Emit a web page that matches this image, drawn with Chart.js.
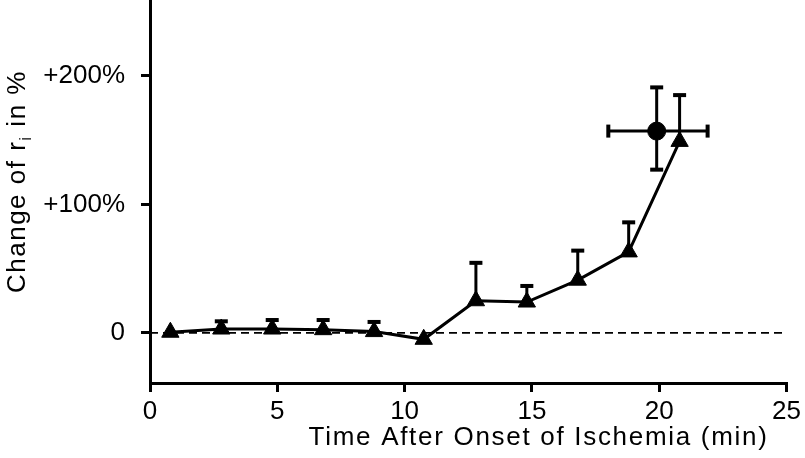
<!DOCTYPE html>
<html lang="en">
<head>
  <meta charset="UTF-8">
  <title>Change of ri after onset of ischemia</title>
  <style>
    html, body {
      margin: 0;
      padding: 0;
      background: #ffffff;
    }
    canvas {
      display: block;
    }
  </style>
</head>
<body>

<canvas id="chart" width="805" height="458"></canvas>

<script src="https://cdn.jsdelivr.net/npm/chart.js"></script>
<script>
  // measured series (triangles), time in min, change in %
  const times = [0.8, 2.8, 4.8, 6.8, 8.8, 10.75, 12.8, 14.8, 16.8, 18.8, 20.8];
  const change = [0.5, 3, 3, 2.5, 1, -5, 25, 24, 41, 63, 149];
  const errTop = [null, 9, 10, 10, 8.5, null, 54.5, 36.5, 64, 86, 185];

  // single reference point (circle) with x and y error
  const refTime = [19.9];
  const refChange = [157];
  const refYLow = [127];
  const refYHigh = [191];
  const refXLow = [18.0];
  const refXHigh = [21.9];

  const xTicks = [0, 5, 10, 15, 20, 25];
  const yTicks = [0, 100, 200];
  const zeroLine = [0, 25];

  const FONT = '"Liberation Sans", Arial, Helvetica, sans-serif';

  const errorBars = {
    id: 'errorBars',
    beforeDatasetsDraw(chart) {
      const { ctx, scales: { x, y } } = chart;
      ctx.save();
      ctx.strokeStyle = '#000';
      ctx.fillStyle = '#000';
      ctx.lineWidth = 3;

      times.forEach((t, i) => {
        if (errTop[i] == null) return;
        const px = x.getPixelForValue(t);
        const y0 = y.getPixelForValue(change[i]);
        const y1 = y.getPixelForValue(errTop[i]);
        ctx.beginPath();
        ctx.moveTo(px, y0);
        ctx.lineTo(px, y1);
        ctx.stroke();
        ctx.fillRect(px - 6.5, y1 - 2, 13, 4);
      });

      refTime.forEach((t, i) => {
        const px = x.getPixelForValue(t);
        const py = y.getPixelForValue(refChange[i]);
        const yl = y.getPixelForValue(refYLow[i]);
        const yh = y.getPixelForValue(refYHigh[i]);
        const xl = x.getPixelForValue(refXLow[i]);
        const xh = x.getPixelForValue(refXHigh[i]);
        ctx.beginPath();
        ctx.moveTo(px, yl);
        ctx.lineTo(px, yh);
        ctx.moveTo(xl, py);
        ctx.lineTo(xh, py);
        ctx.stroke();
        ctx.fillRect(px - 6.5, yh - 2, 13, 4);
        ctx.fillRect(px - 6.5, yl - 2, 13, 4);
        ctx.fillRect(xl - 2, py - 6.5, 4, 13);
        ctx.fillRect(xh - 2, py - 6.5, 4, 13);
      });
      ctx.restore();
    }
  };

  // axis titles drawn by hand (subscript i on the y title)
  const axisTitles = {
    id: 'axisTitles',
    afterDraw(chart) {
      const { ctx, chartArea } = chart;
      ctx.save();
      ctx.fillStyle = '#000';
      ctx.letterSpacing = '1.7px';
      ctx.font = '26px ' + FONT;
      ctx.textBaseline = 'alphabetic';

      ctx.textAlign = 'right';
      ctx.fillText('Time After Onset of Ischemia (min)', chartArea.right - 18, chartArea.bottom + 62);

      ctx.letterSpacing = '1.5px';
      ctx.translate(25, 293);
      ctx.rotate(-Math.PI / 2);
      ctx.textAlign = 'left';
      const a = 'Change of r';
      ctx.fillText(a, 0, 0);
      let w = ctx.measureText(a).width;
      ctx.font = '17px ' + FONT;
      ctx.fillText('i', w, 6);
      w += ctx.measureText('i').width;
      ctx.font = '26px ' + FONT;
      ctx.fillText(' in %', w, 0);
      ctx.restore();
    }
  };

  const ctx = document.getElementById('chart').getContext('2d');
  new Chart(ctx, {
    type: 'scatter',
    data: {
      datasets: [
        {
          data: zeroLine.map(v => ({ x: v, y: 0 })),
          showLine: true,
          borderColor: '#000',
          borderWidth: 1.8,
          borderDash: [8, 5],
          pointRadius: 0
        },
        {
          data: times.map((t, i) => ({ x: t, y: change[i] })),
          showLine: true,
          borderColor: '#000',
          borderWidth: 3,
          pointStyle: 'triangle',
          pointRadius: 10,
          pointBackgroundColor: '#000',
          pointBorderColor: '#000',
          pointBorderWidth: 1
        },
        {
          data: refTime.map((t, i) => ({ x: t, y: refChange[i] })),
          showLine: false,
          pointStyle: 'circle',
          pointRadius: 9,
          pointBackgroundColor: '#000',
          pointBorderColor: '#000',
          pointBorderWidth: 1
        }
      ]
    },
    options: {
      responsive: false,
      animation: false,
      layout: { autoPadding: false, padding: { left: 0, right: 15, top: 0, bottom: 0 } },
      plugins: {
        legend: { display: false },
        tooltip: { enabled: false }
      },
      scales: {
        x: {
          type: 'linear',
          min: 0,
          max: 25,
          afterBuildTicks: s => { s.ticks = xTicks.map(v => ({ value: v })); },
          afterFit: s => { s.height = 75; },
          border: { color: '#000', width: 3 },
          grid: { drawOnChartArea: false, color: '#000', lineWidth: 3, tickLength: 9 },
          ticks: { color: '#000', font: { family: FONT, size: 26 }, padding: 4, maxRotation: 0 }
        },
        y: {
          type: 'linear',
          min: -39,
          max: 259,
          afterBuildTicks: s => { s.ticks = yTicks.map(v => ({ value: v })); },
          afterFit: s => { s.width = 150; s.paddingTop = 0; s.paddingBottom = 0; },
          border: { color: '#000', width: 3 },
          grid: { drawOnChartArea: false, color: '#000', lineWidth: 3, tickLength: 9 },
          ticks: {
            color: '#000',
            font: { family: FONT, size: 26 },
            padding: 16,
            callback: v => v === 0 ? '0' : '+' + v + '%'
          }
        }
      }
    },
    plugins: [errorBars, axisTitles]
  });
</script>
</body>
</html>
